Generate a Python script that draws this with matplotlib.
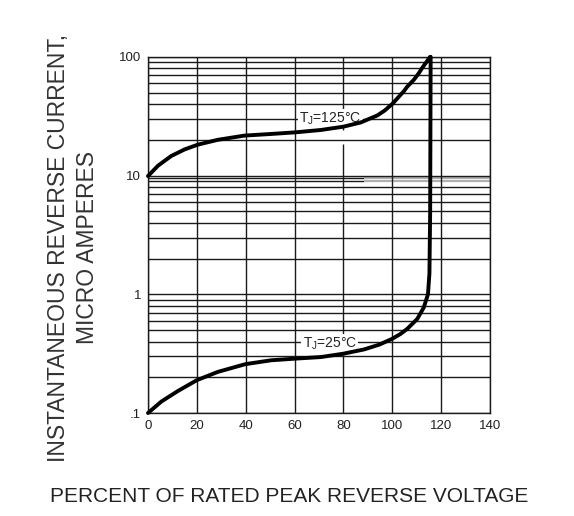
import matplotlib
matplotlib.use('Agg')
import matplotlib.pyplot as plt

plt.rcParams['font.family'] = ['Liberation Sans', 'DejaVu Sans']
plt.rcParams['mathtext.fontset'] = 'custom'
plt.rcParams['mathtext.rm'] = 'Liberation Sans'

# curve at Tj = 125 C
pct_125 = [0, 4.1, 9.5, 15, 20.4, 28.6, 39.5, 50.4, 60.2, 70.8, 80, 87.1,
           93.9, 96.9, 100, 104.8, 106.1, 108.9, 110.9, 112.2, 115.5]
cur_125 = [9.9, 12.1, 14.6, 16.6, 18.2, 20.0, 21.7, 22.4, 23.1, 24.2, 25.8,
           28.0, 32.1, 35.3, 40.1, 51.5, 56.0, 64.3, 73.0, 80.4, 100]

# curve at Tj = 25 C
pct_25 = [0, 5.5, 12.2, 20, 28.6, 39.9, 50.4, 60.2, 70.8, 80, 88.4, 94.6,
          100, 103.4, 106.1, 110.2, 112.9, 114.6, 115.2, 115.5, 115.7]
cur_25 = [0.1, 0.125, 0.153, 0.189, 0.222, 0.258, 0.278, 0.287, 0.296, 0.316,
          0.343, 0.376, 0.422, 0.464, 0.511, 0.619, 0.775, 1.0, 1.5, 5, 100]

x_ticks = [0, 20, 40, 60, 80, 100, 120, 140]
y_ticks = [0.1, 1, 10, 100]
y_tick_labels = ['.1', '1', '10', '100']

label_125 = r'T$_\mathrm{J}$=125°C'
label_25 = r'T$_\mathrm{J}$=25°C'

fig = plt.figure(figsize=(5.74, 5.16), dpi=100)
ax = fig.add_axes([0.2578, 0.1996, 0.8537 - 0.2578, 0.8899 - 0.1996])
ax.set_yscale('log')
ax.set_xlim(0, 140)
ax.set_ylim(0.1, 100)

grid_kw = dict(color='#1a1a1a', linewidth=1.0, zorder=1)

# horizontal grid: every 1..9 step inside each decade
for dec in [0.1, 1, 10]:
    for k in range(1, 10):
        v = dec * k
        if dec == 1 and k == 9:
            # line that fades to grey on the right side
            ax.hlines(v, 0, 88.5, **grid_kw)
            ax.hlines(v, 88.5, 140, color='#b0b0b0', linewidth=1.6, zorder=1)
            ax.hlines(9.5, 0, 88.5, **grid_kw)
            ax.hlines(9.5, 88.5, 140, color='#b0b0b0', linewidth=1.6, zorder=1)
        else:
            ax.hlines(v, 0, 140, **grid_kw)
ax.hlines(100, 0, 140, **grid_kw)

# vertical grid
for xv in x_ticks:
    if xv == 80:
        ax.vlines(xv, 0.1, 18.5, **grid_kw)
        ax.vlines(xv, 24, 100, **grid_kw)
    else:
        ax.vlines(xv, 0.1, 100, **grid_kw)

ax.plot(pct_125, cur_125, color='black', linewidth=2.8, zorder=3,
        solid_joinstyle='round', solid_capstyle='round', clip_on=False)
ax.plot(pct_25, cur_25, color='black', linewidth=2.8, zorder=3,
        solid_joinstyle='round', solid_capstyle='round', clip_on=False)

box = dict(facecolor='white', edgecolor='none', pad=1.0)
ax.text(74.6, 30.1, label_125, fontsize=10, ha='center', va='center',
        bbox=box, zorder=2, color='#222222')
ax.text(74.4, 0.383, label_25, fontsize=10, ha='center', va='center',
        bbox=box, zorder=2, color='#222222')

ax.set_xticks(x_ticks)
ax.set_xticklabels([str(t) for t in x_ticks])
ax.set_yticks(y_ticks)
ax.set_yticklabels(y_tick_labels)
ax.minorticks_off()
ax.tick_params(length=0, labelsize=9.5, pad=5, colors='#222222')
for s in ax.spines.values():
    s.set_color('#1a1a1a')
    s.set_linewidth(1.0)

fig.text(73 / 574, 1 - 248 / 516,
         'INSTANTANEOUS REVERSE CURRENT,\nMICRO AMPERES',
         rotation=90, ha='center', va='center', multialignment='center',
         fontsize=16.5, linespacing=1.35, color='#333333')
fig.text(289 / 574, 1 - 497 / 516, 'PERCENT OF RATED PEAK REVERSE VOLTAGE',
         ha='center', va='center', fontsize=15, color='#222222')

fig.savefig('out.png', dpi=100)
